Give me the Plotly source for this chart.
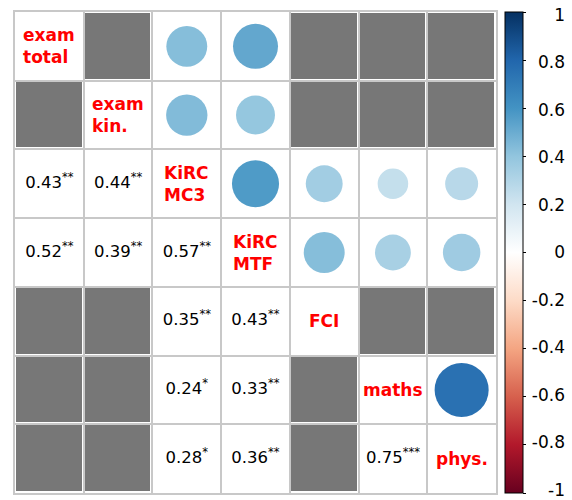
import plotly.graph_objects as go

variables = ["exam<br>total", "exam<br>kin.", "KiRC<br>MC3", "KiRC<br>MTF", "FCI", "maths", "phys."]

# significant correlations (row index, column index, r, stars), 1-based, row > col
pair_row = [3, 3, 4, 4, 4, 5, 5, 6, 6, 7, 7, 7]
pair_col = [1, 2, 1, 2, 3, 3, 4, 3, 4, 3, 4, 6]
pair_r = [0.43, 0.44, 0.52, 0.39, 0.57, 0.35, 0.43, 0.24, 0.33, 0.28, 0.36, 0.75]
pair_stars = ["**", "**", "**", "**", "**", "**", "**", "*", "**", "*", "**", "***"]

cbar_ticks = [1, 0.8, 0.6, 0.4, 0.2, 0, -0.2, -0.4, -0.6, -0.8, -1]
cbar_text = ["1", "0.8", "0.6", "0.4", "0.2", "0", "-0.2", "-0.4", "-0.6", "-0.8", "-1"]

rdbu = ["#67001F", "#B2182B", "#D6604D", "#F4A582", "#FDDBC7", "#FFFFFF",
        "#D1E5F0", "#92C5DE", "#4393C3", "#2166AC", "#053061"]
colorscale = [[i / (len(rdbu) - 1), c] for i, c in enumerate(rdbu)]

n = len(variables)
W, H = 572, 500
ml, mt, mb = 15, 12, 7
mr = 0
grid_px = 481            # width of the correlation grid
paper_px = W - ml - mr   # full plotting width (grid + colorbar area)
cell_px = grid_px / n
label_inset = 1.0126     # colorbar labels sit slightly inside the bar ends


def px_to_paper(px):
    return (px - ml) / paper_px


# gray (non-significant) cells
sig = set()
for r, c in zip(pair_row, pair_col):
    sig.add((r, c))
    sig.add((c, r))
gray_z = []
for r in range(1, n + 1):
    row = []
    for c in range(1, n + 1):
        row.append(None if (r == c or (r, c) in sig) else 1)
    gray_z.append(row)

fig = go.Figure()
fig.add_trace(go.Heatmap(
    x=list(range(1, n + 1)), y=list(range(1, n + 1)), z=gray_z,
    colorscale=[[0, "#777777"], [1, "#777777"]], showscale=False,
    xgap=3, ygap=3, hoverinfo="skip",
))

# circles in upper triangle
fig.add_trace(go.Scatter(
    x=pair_row, y=pair_col, mode="markers",
    marker=dict(
        size=[0.908 * cell_px * abs(v) ** 0.5 for v in pair_r],
        color=pair_r, cmin=-1, cmax=1, colorscale=colorscale,
        line=dict(width=0), opacity=1,
        showscale=True,
        colorbar=dict(
            thickness=18, len=1, lenmode="fraction", y=0.5, yanchor="middle",
            x=px_to_paper(505), xanchor="left", xpad=0, ypad=0,
            outlinewidth=1, outlinecolor="black",
            tickvals=cbar_ticks, ticks="outside", ticklen=3, tickcolor="black",
            showticklabels=False,
        ),
    ),
    hoverinfo="skip", showlegend=False,
))

# numbers in lower triangle
fig.add_trace(go.Scatter(
    x=pair_col, y=pair_row, mode="text",
    text=[f"{v:.2f}<sup>{s}</sup>" for v, s in zip(pair_r, pair_stars)],
    textposition="middle center",
    textfont=dict(family="DejaVu Sans", size=16.5, color="black"),
    hoverinfo="skip", showlegend=False,
))

# helper trace that activates the scale axis carrying the colorbar labels
fig.add_trace(go.Scatter(
    x=[None] * len(cbar_ticks), y=cbar_ticks, yaxis="y2", mode="markers",
    marker=dict(opacity=0), hoverinfo="skip", showlegend=False,
))

for i, lab in enumerate(variables, start=1):
    fig.add_annotation(
        x=i, y=i, text=f"<b>{lab}</b>", showarrow=False, align="left",
        font=dict(family="DejaVu Sans", size=17, color="#FF0000"),
    )

bounds = [k + 0.5 for k in range(0, n + 1)]
axis_common = dict(
    tickvals=bounds, showticklabels=False, ticks="", showgrid=True,
    gridcolor="#C8C8C8", gridwidth=1.5, zeroline=False,
    showline=True, mirror=True, linecolor="#C8C8C8", linewidth=1.5,
    fixedrange=True,
)
fig.update_xaxes(range=[0.5, n + 0.5], domain=[0, grid_px / paper_px], **axis_common)
fig.update_yaxes(range=[n + 0.5, 0.5], **axis_common)

fig.update_layout(
    width=W, height=H,
    margin=dict(l=ml, r=mr, t=mt, b=mb, autoexpand=False),
    plot_bgcolor="white", paper_bgcolor="white",
    font=dict(family="DejaVu Sans"),
    showlegend=False,
    # right-aligned colorbar tick labels
    yaxis2=dict(
        overlaying="y", anchor="free", side="left", position=px_to_paper(565),
        range=[-label_inset, label_inset], tickvals=cbar_ticks, ticktext=cbar_text,
        showgrid=False, zeroline=False, showline=False, ticks="",
        tickfont=dict(family="DejaVu Sans", size=17, color="black"),
        ticklabeloverflow="allow", fixedrange=True,
    ),
)

fig.write_html("out.html", config={"displayModeBar": False},
               post_script="document.body.style.margin='0px';")
